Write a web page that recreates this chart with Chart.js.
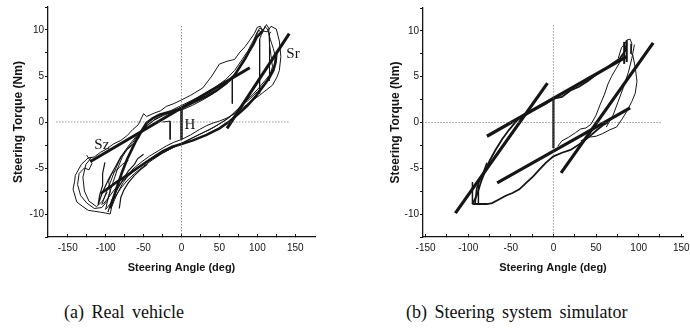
<!DOCTYPE html>
<html>
<head>
<meta charset="utf-8">
<script src="https://cdn.jsdelivr.net/npm/chart.js@4.4.0/dist/chart.umd.min.js"></script>
<style>
html, body { margin: 0; padding: 0; background: #fff; width: 690px; height: 331px; overflow: hidden; }
#ca { position: absolute; left: 0; top: 0; }
#cb { position: absolute; left: 345px; top: 0; }
.cap { position: absolute; top: 302px; font-family: "Liberation Serif", "Times New Roman", serif; font-size: 18px; color: #111; word-spacing: 3px; white-space: nowrap; }
</style>
</head>
<body>
<canvas id="ca" width="345" height="290"></canvas>
<canvas id="cb" width="360" height="290"></canvas>
<div class="cap" style="left:64px">(a) Real vehicle</div>
<div class="cap" style="left:406px">(b) Steering system simulator</div>
<script>
// tick values
const xTicks = [-150, -125, -100, -75, -50, -25, 0, 25, 50, 75, 100, 125, 150];
const yTicks = [-12.5, -10, -7.5, -5, -2.5, 0, 2.5, 5, 7.5, 10, 12.5];

// (a) real vehicle - measured traces [angle deg, torque Nm]
const aOuter = [[-140,-5.8],[-132,-4.6],[-123,-3.9],[-115,-3.8],[-107,-3.3],[-98,-2.9],[-90,-2.4],[-80,-2.0],[-72,-1.5],[-64,-0.8],[-57,-0.3],[-50,0.9],[-46,0.6],[-35,1.0],[-28,1.2],[-20,1.7],[-10,2.0],[0,2.4],[12,2.9],[28,3.7],[40,5.0],[50,6.3],[60,6.6],[70,6.8],[77,7.6],[84,8.2],[90,8.9],[96,9.6],[100,10.3],[104,10.4],[107,9.9],[113,9.8],[118,10.4],[125,10.1],[129,8.8],[131,7.1],[129,5.6],[126,4.9],[120,4.0],[112,3.5],[103,2.9],[94,2.4],[86,1.9],[77,1.3],[68,0.8],[59,0.4],[50,0.1],[42,-0.1],[33,-0.4],[24,-0.8],[12,-1.4],[0,-1.9],[-10,-2.2],[-20,-2.6],[-30,-3.1],[-42,-3.7],[-52,-4.3],[-64,-5.1],[-70,-5.8],[-77,-6.6],[-83,-7.5],[-88,-8.4],[-92,-9.2],[-94,-10.0],[-100,-9.9],[-107,-9.8],[-115,-9.7],[-123,-9.6],[-130,-9.2],[-138,-8.7],[-143,-7.3],[-141,-6.5],[-140,-5.8]];
const aLoop2 = [[-100,-9.5],[-96,-8.0],[-90,-6.5],[-84,-5.0],[-78,-3.8],[-72,-3.0],[-64,-2.2],[-55,-1.2],[-45,-0.4],[-35,0.3],[-22,0.9],[-10,1.4],[0,1.8],[15,2.4],[30,3.0],[45,3.8],[58,4.6],[70,5.6],[80,6.8],[88,7.8],[95,8.9],[100,9.8],[103,10.2],[108,10.0],[112,10.6],[115,10.2],[116,8.5],[118,7.2],[120,6.0],[116,5.0],[110,4.2],[100,3.3],[90,2.5],[80,1.8],[70,1.0],[60,0.3],[50,-0.2],[38,-0.8],[25,-1.3],[10,-1.9],[0,-2.3],[-12,-2.8],[-25,-3.4],[-38,-4.1],[-50,-4.8],[-62,-5.6],[-72,-6.4],[-80,-7.2],[-88,-8.2],[-95,-9.0],[-100,-9.5]];
const aLoop3 = [[-105,-9.0],[-100,-7.8],[-94,-6.6],[-88,-5.3],[-82,-4.2],[-76,-3.3],[-68,-2.4],[-58,-1.4],[-48,-0.5],[-36,0.2],[-24,0.7],[-12,1.1],[0,1.3],[14,1.8],[28,2.4],[42,3.1],[54,3.9],[66,4.8],[76,5.8],[84,6.9],[92,8.1],[98,9.3],[102,10.0],[106,9.6],[110,10.4],[114,10.0],[117,9.0],[121,8.0],[124,7.0],[122,6.0],[117,5.2],[110,4.5],[102,3.7],[94,3.0],[84,2.2],[74,1.4],[64,0.6],[54,0.0],[44,-0.5],[32,-1.0],[20,-1.5],[8,-2.0],[-4,-2.5],[-16,-3.0],[-28,-3.5],[-40,-4.1],[-52,-4.7],[-62,-5.3],[-72,-6.0],[-80,-6.6],[-88,-7.3],[-96,-8.2],[-103,-8.9]];
const aLoop4 = [[-125,-3.6],[-118,-4.5],[-122,-5.2],[-128,-5.0],[-135,-5.6],[-137,-6.8],[-133,-8.0],[-125,-8.8],[-115,-9.4],[-105,-9.3],[-98,-8.6],[-94,-7.6],[-96,-6.4],[-92,-5.6],[-85,-5.2],[-78,-4.6],[-70,-4.2]];
const aLoop5 = [[-101,-4.4],[-104,-5.6],[-104,-6.9],[-108,-8.0],[-110,-9.0],[-104,-7.6],[-96,-6.2],[-88,-5.0],[-80,-3.8],[-72,-3.0],[-62,-2.3],[-55,-1.5]];
const aLoop6 = [[-97,-9.8],[-92,-8.5],[-86,-7.5],[-78,-6.4],[-70,-5.3],[-62,-4.6],[-58,-4.0],[-50,-3.5]];
const aLoop7 = [[-82,-9.4],[-80,-8.2],[-76,-7.4],[-70,-6.6],[-62,-5.8],[-53,-5.1],[-45,-4.6]];
const aLoop8 = [[-118,-3.8],[-126,-4.6],[-130,-6.0],[-128,-7.5],[-122,-8.6],[-112,-9.2],[-104,-8.6],[-98,-7.6]];
const aJump1 = [[108,10.1],[103,9.0],[103,3.1]];
const aJump2 = [[118,9.8],[116,9.6],[116,4.5]];
const aJump3 = [[62,4.5],[67,4.7],[67,2.0]];
const aJump4 = [[-25,0.0],[-15,0.1],[-15,-1.9]];
const aBandUp = [[-94,-9.4],[-86,-7.3],[-79,-5.6],[-72,-4.1],[-65,-2.9],[-59,-1.9],[-52,-0.9],[-46,-0.1],[-38,0.4],[-29,0.8],[-15,1.1],[0,1.5],[15,2.1],[33,2.8],[46,3.4],[59,4.2],[70,5.1],[77,6.0],[84,6.9],[90,7.8],[95,8.5],[99,9.2],[107,9.9]];
const aBandLow = [[-107,-7.8],[-95,-7.1],[-85,-6.5],[-72,-5.8],[-58,-5.0],[-42,-4.1],[-25,-3.2],[-12,-2.7],[0,-2.4],[15,-2.0],[33,-1.4],[50,-0.7],[64,0.1],[75,0.9],[86,1.7],[97,2.7],[107,3.8],[115,4.7],[121,5.6],[124,6.5],[125,7.4]];
const aFitSz = [[-120,-4.3],[90,5.9]];
const aFitSr = [[60,-0.7],[142,9.6]];
const aFitH = [[0,-1.9],[0,1.5]];
const aZeroV = [[0,10.4],[0,-12.3]];
const aZeroH = [[-165,0],[142,0]];
const aLabels = [{ text: 'Sz', x: -105, y: -2.5 }, { text: 'Sr', x: 147, y: 7.4 }, { text: 'H', x: 11, y: -0.3 }];

// (b) steering system simulator
const bUpTrace = [[-95,-8.9],[-90,-8.0],[-85,-6.5],[-80,-5.3],[-75,-4.2],[-68,-3.0],[-60,-1.8],[-52,-0.8],[-44,0.1],[-36,0.8],[-28,1.2],[-20,1.5],[-10,2.0],[0,2.6],[10,2.8],[20,3.5],[30,3.9],[40,4.5],[50,5.2],[60,5.8],[70,6.5],[78,7.0],[84,7.8],[86,8.6]];
const bBottom = [[-95,-8.9],[-86,-8.9],[-78,-8.9],[-72,-8.8],[-64,-8.4],[-56,-8.0],[-48,-7.7],[-40,-7.3],[-32,-6.6],[-24,-5.9],[-16,-5.1],[-9,-4.4],[0,-3.7],[10,-3.3],[20,-3.0],[30,-2.4],[40,-1.7],[50,-0.9],[58,-0.3],[64,0.0]];
const bRight = [[76,7.0],[80,8.2],[84,8.6],[86,9.0],[90,9.1],[92,8.6],[91,7.5],[93,7.4],[96,6.0],[98,4.5],[96,3.2],[92,2.3],[86,1.2],[80,0.3],[74,-0.5],[66,-0.8],[58,-1.2],[50,-1.5],[42,-1.6],[32,-2.0]];
const bNoisy1 = [[5,-2.6],[10,-2.0],[18,-1.6],[26,-1.1],[32,-0.7],[38,-0.6],[44,-0.2],[50,0.8],[55,2.0],[60,3.1],[64,4.2],[68,5.0],[73,5.8],[78,6.6],[82,7.3]];
const bNoisy2 = [[62,-0.5],[70,0.8],[76,2.3],[82,3.8],[88,5.5],[92,7.0],[95,8.5]];
const bLowLeft = [[-92,-8.9],[-90,-7.2],[-86,-6.2],[-82,-5.4],[-78,-4.4]];
const bStep1 = [[-95,-8.9],[-95,-6.5]];
const bStep2 = [[-88,-8.9],[-88,-6.8]];
const bStep3 = [[83,6.4],[83,8.8]];
const bStep4 = [[86,6.6],[86,9.0]];
const bFitSteepL = [[-115,-9.9],[-7,4.3]];
const bFitShallowU = [[-78,-1.5],[86,7.2]];
const bFitSteepR = [[9,-5.5],[117,8.7]];
const bFitShallowL = [[-66,-6.6],[90,1.6]];
const bFitV = [[0,-2.8],[0,2.8]];
const bZeroV = [[0,10.6],[0,-12.4]];
const bZeroH = [[-150,0],[127,0]];

const INK = '#151515';
const SANS = '"Liberation Sans", Arial, sans-serif';

function line(pts, w, dash) {
  return {
    data: pts.map(p => ({ x: p[0], y: p[1] })),
    showLine: true, pointRadius: 0, borderWidth: w, tension: 0,
    borderColor: dash ? '#666' : INK, borderDash: dash || [], fill: false
  };
}

const textLabels = {
  id: 'textLabels',
  afterDatasetsDraw(chart, args, opts) {
    const { ctx, scales: { x, y } } = chart;
    ctx.save();
    ctx.font = '15px "Liberation Serif", serif';
    ctx.fillStyle = INK;
    ctx.textAlign = 'center';
    ctx.textBaseline = 'middle';
    (opts.items || []).forEach(l => ctx.fillText(l.text, x.getPixelForValue(l.x), y.getPixelForValue(l.y)));
    ctx.restore();
  }
};

function makeScales(xr, yAxisW, yTitlePad) {
  return {
    x: {
      type: 'linear', min: xr[0], max: xr[1],
      afterBuildTicks: s => { s.ticks = xTicks.map(v => ({ value: v })); },
      afterFit: s => { s.height = 53; },
      grid: { drawOnChartArea: false, tickLength: -3, tickColor: INK },
      border: { color: INK, width: 1.3 },
      ticks: { autoSkip: false, maxRotation: 0, padding: 8, color: INK, font: { family: SANS, size: 10 },
        callback: v => (v % 50 === 0 ? v : '') },
      title: { display: true, text: 'Steering Angle (deg)', color: INK,
        font: { family: SANS, size: 11, weight: 'bold' }, padding: { top: 0, bottom: 15 } }
    },
    y: {
      type: 'linear', min: -12.5, max: 12.5,
      afterBuildTicks: s => { s.ticks = yTicks.map(v => ({ value: v })); },
      afterFit: s => { s.width = yAxisW; },
      grid: { drawOnChartArea: false, tickLength: 3, tickColor: INK },
      border: { color: INK, width: 1.3 },
      ticks: { autoSkip: false, padding: 1, color: INK, font: { family: SANS, size: 10 },
        callback: v => (v % 5 === 0 ? v : '') },
      title: { display: true, text: 'Steering Torque (Nm)', color: INK,
        font: { family: SANS, size: 12, weight: 'bold' }, padding: { top: yTitlePad, bottom: 0 } }
    }
  };
}

function makeChart(id, sets, xr, yAxisW, yTitlePad, pad, labels) {
  return new Chart(document.getElementById(id), {
    type: 'scatter',
    data: { datasets: sets },
    options: {
      responsive: false, animation: false,
      layout: { padding: pad },
      plugins: { legend: { display: false }, tooltip: { enabled: false }, textLabels: { items: labels } },
      scales: makeScales(xr, yAxisW, yTitlePad)
    },
    plugins: [textLabels]
  });
}

makeChart('ca', [
  line(aZeroV, 1, [1, 2]), line(aZeroH, 1, [1, 2]),
  line(aOuter, 1), line(aLoop2, 1), line(aLoop3, 1), line(aLoop4, 1),
  line(aLoop5, 1.2), line(aLoop6, 1.2), line(aLoop7, 1.2), line(aLoop8, 1),
  line(aJump1, 1), line(aJump2, 1), line(aJump3, 1), line(aJump4, 1),
  line(aBandUp, 2.6), line(aBandLow, 2.6),
  line(aFitSz, 3), line(aFitSr, 3), line(aFitH, 2.5)
], [-176, 176], 48, 11, { top: 5, right: 30, left: 0, bottom: 0 }, aLabels);

makeChart('cb', [
  line(bZeroV, 1, [1, 2]), line(bZeroH, 1, [1, 2]),
  line(bUpTrace, 1.8), line(bBottom, 1.8), line(bRight, 1), line(bNoisy1, 1), line(bNoisy2, 1), line(bLowLeft, 1.6),
  line(bStep1, 1.5), line(bStep2, 1.5), line(bStep3, 2), line(bStep4, 2),
  line(bFitSteepL, 3.2), line(bFitShallowU, 3.2), line(bFitSteepR, 3.2), line(bFitShallowL, 3.2), line(bFitV, 2.2)
], [-153, 152], 78, 43, { top: 8, right: 22, left: 0, bottom: 0 }, []);
</script>
</body>
</html>
